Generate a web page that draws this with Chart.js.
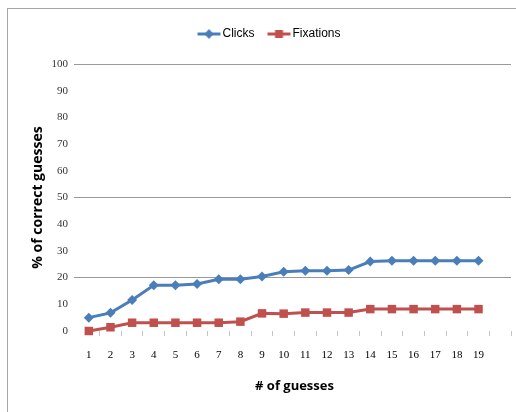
<!DOCTYPE html>
<html>
<head>
<meta charset="utf-8">
<script src="https://cdn.jsdelivr.net/npm/chart.js@4"></script>
<style>
  html, body { margin: 0; padding: 0; background: #fff; overflow: hidden; }
  #frame { position: absolute; left: 7px; top: 8px; width: 560px; height: 440px;
           border-top: 1px solid #a6a6a6; border-left: 1px solid #a6a6a6; }
  #wrap { position: absolute; left: 0; top: 0; width: 536px; height: 412px; }
</style>
</head>
<body>
<div id="frame"></div>
<div id="wrap"><canvas id="chart" width="536" height="412"></canvas></div>
<script>
// Data
const guesses = ['1', '2', '3', '4', '5', '6', '7', '8', '9', '10',
                 '11', '12', '13', '14', '15', '16', '17', '18', '19', ''];
const clicks = [5, 6.8, 11.6, 17.1, 17.1, 17.6, 19.4, 19.4, 20.4, 22.2,
                22.6, 22.6, 22.8, 26, 26.3, 26.3, 26.3, 26.3, 26.3, null];
const fixations = [0, 1.4, 3.1, 3.1, 3.1, 3.1, 3.1, 3.5, 6.6, 6.5,
                   6.9, 6.9, 6.9, 8.2, 8.2, 8.2, 8.2, 8.2, 8.2, null];
const shownGrid = [100, 50, 20];

const blue = '#4a7ebb';
const red = '#c0504d';

// legend icons: line with marker, drawn a bit to the right so text sits close
function legendIcon(color, shape) {
    const c = document.createElement('canvas');
    c.width = 36; c.height = 12;
    const g = c.getContext('2d');
    g.strokeStyle = color; g.lineWidth = 3;
    g.beginPath(); g.moveTo(11, 6); g.lineTo(34, 6); g.stroke();
    g.fillStyle = color;
    g.beginPath();
    if (shape === 'diamond') {
        g.moveTo(22.5, 1); g.lineTo(27, 6); g.lineTo(22.5, 11); g.lineTo(18, 6);
    } else {
        g.rect(18.5, 2, 8, 8);
    }
    g.closePath(); g.fill();
    return c;
}
const icons = [legendIcon(blue, 'diamond'), legendIcon(red, 'square')];

// push legend down a bit from the top and right a little
const legendTweak = {
    id: 'legendTweak',
    beforeUpdate(chart) {
        const lg = chart.legend;
        if (lg && !lg._patched) {
            const fit = lg.fit;
            lg.fit = function () { fit.call(this); this.height += 14; };
            lg._patched = true;
        }
    },
    afterLayout(chart) {
        chart.legend.left += 11;
        chart.legend.right += 11;
    }
};

const ctx = document.getElementById('chart').getContext('2d');
new Chart(ctx, {
    type: 'line',
    data: {
        labels: guesses,
        datasets: [{
            label: 'Clicks',
            data: clicks,
            borderColor: blue,
            backgroundColor: blue,
            borderWidth: 3,
            pointStyle: 'rectRot',
            pointRadius: 5,
            pointBorderWidth: 0,
            clip: false,
            tension: 0
        }, {
            label: 'Fixations',
            data: fixations,
            borderColor: red,
            backgroundColor: red,
            borderWidth: 3,
            pointStyle: 'rect',
            pointRadius: 6,
            pointBorderWidth: 0,
            clip: false,
            tension: 0
        }]
    },
    plugins: [legendTweak],
    options: {
        responsive: false,
        animation: false,
        layout: { padding: { top: 10, right: 25, left: 0, bottom: 0 } },
        plugins: {
            tooltip: { enabled: false },
            legend: {
                position: 'top',
                labels: {
                    usePointStyle: true,
                    pointStyleWidth: 24,
                    padding: 8,
                    color: '#000',
                    font: { family: 'Liberation Sans', size: 12 },
                    generateLabels(chart) {
                        const items = Chart.defaults.plugins.legend.labels.generateLabels(chart);
                        items.forEach((it, i) => { it.pointStyle = icons[i]; });
                        return items;
                    }
                }
            }
        },
        scales: {
            x: {
                offset: true,
                grid: {
                    offset: true,
                    drawOnChartArea: false,
                    tickLength: 5,
                    color: c => c.index === 0 ? 'rgba(0,0,0,0)' : '#c4c4c4'
                },
                border: { display: false },
                ticks: {
                    padding: 13,
                    maxRotation: 0,
                    autoSkip: false,
                    color: '#000',
                    font: { family: 'Liberation Serif', size: 11 }
                },
                title: {
                    display: true,
                    text: '# of guesses',
                    color: '#000',
                    font: { family: 'Open Sans', size: 13, weight: 'bold' },
                    padding: { top: 0, bottom: 18 }
                },
                afterFit(scale) { scale.height = 81; }
            },
            y: {
                min: 0,
                max: 100,
                ticks: {
                    stepSize: 10,
                    padding: 6,
                    color: '#333',
                    font: { family: 'Liberation Serif', size: 11 }
                },
                grid: {
                    tickLength: 4,
                    color: c => shownGrid.includes(c.tick.value) ? '#999' : 'rgba(0,0,0,0)'
                },
                border: { display: false },
                title: {
                    display: true,
                    text: '% of correct guesses',
                    color: '#000',
                    font: { family: 'Open Sans', size: 14, weight: 'bold' },
                    padding: { top: 30, bottom: 0 }
                },
                afterFit(scale) { scale.width = 78; scale.paddingTop = 64; }
            }
        }
    }
});
</script>
</body>
</html>
